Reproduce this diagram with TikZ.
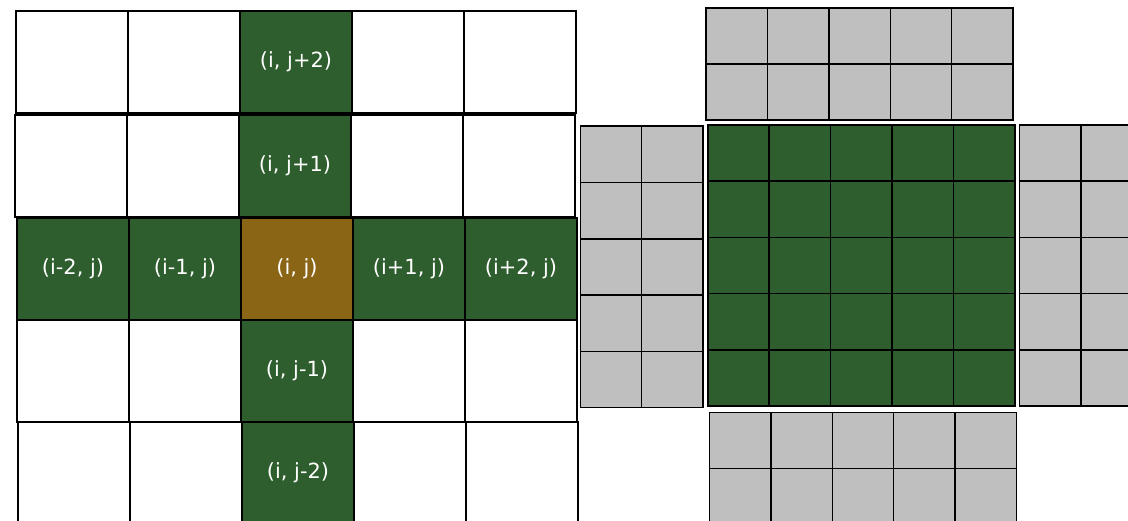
\documentclass[tikz,border=0pt]{standalone}
\usepackage{fontspec}
\setmainfont{DejaVu Sans}
\definecolor{cellgreen}{RGB}{46,94,46}
\definecolor{cellgold}{RGB}{139,101,22}
\definecolor{cellgray}{RGB}{191,191,191}
\tikzset{
  bigcell/.style={draw=black, line width=2pt, fill=white, anchor=north west, inner sep=0pt,
    minimum width=112pt, minimum height=102pt, text=white, font=\fontsize{20.9}{25}\selectfont},
  bigg/.style={bigcell, fill=cellgreen},
  bigc/.style={bigcell, fill=cellgold},
  smallcell/.style={draw=black, line width=1.5pt, anchor=north west, inner sep=0pt,
    minimum width=61.4pt, minimum height=56.2pt},
  graycell/.style={smallcell, fill=cellgray},
  greencell/.style={smallcell, fill=cellgreen}
}
\begin{document}
\begin{tikzpicture}[x=1pt,y=-1pt]
\useasboundingbox (0,0) rectangle (1128,521);
\clip (0,0) rectangle (1128,521);
% left grid: rows with x offset and y top
\foreach \r/\xo/\yo in {0/15/10, 1/14/114, 2/16/217, 3/16/319, 4/17/421} {
  \foreach \c in {0,...,4} {
    \node[bigcell] (L-\r-\c) at ({\xo+112*\c},\yo) {};
  }
}
% coloured cells with labels
\node[bigg] (a02) at (239,10) {(i, j+2)};
\node[bigg] (a12) at (238,114) {(i, j+1)};
\node[bigg] (a20) at (16,217) {(i-2, j)};
\node[bigg] (a21) at (128,217) {(i-1, j)};
\node[bigc] (a22) at (240,217) {(i, j)};
\node[bigg] (a23) at (352,217) {(i+1, j)};
\node[bigg] (a24) at (464,217) {(i+2, j)};
\node[bigg] (a32) at (240,319) {(i, j-1)};
\node[bigg] (a42) at (241,421) {(i, j-2)};
% right side
\foreach \c in {0,...,4} {
  \foreach \r in {0,1} {
    \node[graycell] (T-\r-\c) at ({705.3+61.4*\c},{7.3+56*\r}) {};
    \node[graycell] (B-\r-\c) at ({708.7+61.4*\c},{411.7+56*\r}) {};
  }
  \foreach \r in {0,...,4} {
    \node[greencell] (G-\r-\c) at ({707+61.4*\c},{124.3+56.2*\r}) {};
  }
}
\foreach \r in {0,...,4} {
  \foreach \c in {0,1} {
    \node[graycell] (LG-\r-\c) at ({579.5+61.3*\c},{125.5+56.3*\r}) {};
    \node[graycell] (RG-\r-\c) at ({1018.7+61.3*\c},{124.3+56.2*\r}) {};
  }
}
\end{tikzpicture}
\end{document}
